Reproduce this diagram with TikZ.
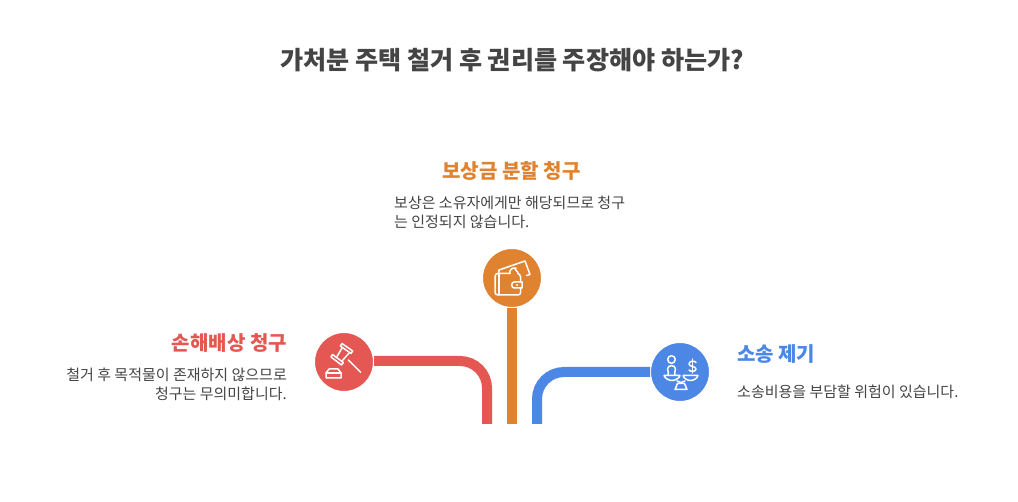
\documentclass[tikz,border=0pt]{standalone}
\usepackage{fontspec}
\setmainfont{Noto Sans CJK KR}
\definecolor{redc}{HTML}{E55753}
\definecolor{orangec}{HTML}{DF8330}
\definecolor{bluec}{HTML}{4C87E6}
\definecolor{txt}{HTML}{444444}
\tikzset{
  disc/.style={circle,minimum size=60pt,inner sep=0pt,draw=white,line width=2pt,fill=#1},
  bar/.style={draw=#1,line width=10pt},
  heading/.style={font=\fontsize{20}{24}\selectfont\bfseries,inner sep=0pt,text=#1},
  body/.style={font=\fontsize{15}{19}\selectfont,inner sep=0pt,text=txt,align=#1},
  ico/.style={draw=white,line width=1.5pt,line cap=round,line join=round}
}
\begin{document}
\begin{tikzpicture}[x=1pt,y=-1pt]
\useasboundingbox (0,0) rectangle (1018,502);
\fill[white] (0,0) rectangle (1018,502);
\coordinate (rend) at (487,424);
\coordinate (oend) at (512,424);
\coordinate (bend) at (537,424);
\node[disc=redc] (rn) at (344,362) {};
\node[disc=orangec] (on) at (512,278) {};
\node[disc=bluec] (bn) at (680,372) {};
\draw[bar=redc] ([xshift=-1pt]rn.east |- 0,361) -- (460,361) arc[start angle=-90,end angle=0,radius=27] -- (rend);
\draw[bar=orangec] ([yshift=1pt]on.south) -- (oend);
\draw[bar=bluec] ([xshift=1pt]bn.west |- 0,372) -- (564,372) arc[start angle=-90,end angle=-180,radius=27] -- (bend);
\node[font=\fontsize{25.1}{29}\selectfont\bfseries,text=txt,inner sep=0pt] (title) at (512,60.5) {가처분 주택 철거 후 권리를 주장해야 하는가?};
\node[heading=orangec] (ot) at (511.5,170.5) {보상금 분할 청구};
\node[body=left,anchor=north west] (ob) at (394,196) {보상은 소유자에게만 해당되므로 청구\\는 인정되지 않습니다.};
\node[heading=redc,anchor=east] (rt) at (287,343.5) {손해배상 청구};
\node[body=right,anchor=north east] (rb) at (287,368) {철거 후 목적물이 존재하지 않으므로\\청구는 무의미합니다.};
\node[heading=bluec,anchor=west] (bt) at (737,354.5) {소송 제기};
\node[body=left,anchor=west] (bb) at (737,392) {소송비용을 부담할 위험이 있습니다.};
% gavel
\begin{scope}[ico]
\draw (342,343.5) -- (352.7,351) -- (351,353.5) -- (340.3,346) -- cycle;
\draw (332.5,354.5) -- (343.3,362.5) -- (341.5,365) -- (331,357) -- cycle;
\draw (342,348) -- (337,356.5) (349.5,352.5) -- (342,361);
\draw (348.3,360) -- (360.7,372.3);
\draw (329,369) -- (338,369) -- (341,373) -- (341,378) -- (326,378) -- (326,373) -- cycle;
\draw (326,373) -- (341,373);
\end{scope}
% wallet
\begin{scope}[ico]
\draw (495,277) .. controls (495,274.5) and (496,273.5) .. (498,273.5) -- (510,273.5);
\draw (495,277) -- (495,292) .. controls (495,294) and (496,295) .. (498,295) -- (518,295) .. controls (519.5,295) and (520.5,294) .. (520.5,292.5) -- (520.5,288);
\draw (499,274) -- (499,295);
\draw (520.5,282) -- (520.5,277) .. controls (520.5,275.5) and (519.5,274) .. (518,273.5);
\draw (514,282) -- (522,282) -- (522,288) -- (514,288) .. controls (511,288) and (511,282) .. (514,282);
\draw (499,270) -- (525,261) -- (530,274.5) -- (526.5,275.5);
\draw (499,270) -- (498.5,273.5);
\draw (510,273.5) .. controls (509,270) and (512,267.5) .. (516,268) .. controls (513,269) and (519,272) .. (518,273.5);
\end{scope}
\fill[white] (517,285) circle[radius=1.2pt];
% scales
\begin{scope}[ico]
\draw (671.5,359.5) circle[radius=3.8];
\draw (668,375) .. controls (669.5,373) and (667.5,371.5) .. (667.5,369) .. controls (667.5,364.5) and (675.5,364.5) .. (675.5,369) .. controls (675.5,371.5) and (673.5,373) .. (675,375);
\draw (664,375.5) -- (680,375.5) .. controls (679,379) and (674,380.5) .. (672,380.5) .. controls (670,380.5) and (665,379) .. (664,375.5);
\draw (683,375.5) -- (698,375.5) .. controls (697,379) and (693,380.5) .. (690.5,380.5) .. controls (688,380.5) and (684,379) .. (683,375.5);
\draw (677,381) -- (681,382.5) -- (685,381);
\draw (677.5,383.5) -- (684.5,383.5) -- (687,389.5) -- (675,389.5) -- cycle;
\draw (696,362.5) .. controls (695,360.5) and (689,360.5) .. (689,364) .. controls (689,367) and (696,366) .. (696,369) .. controls (696,372) and (690,372) .. (689,370);
\draw (692.5,359) -- (692.5,373);
\end{scope}
\end{tikzpicture}
\end{document}
